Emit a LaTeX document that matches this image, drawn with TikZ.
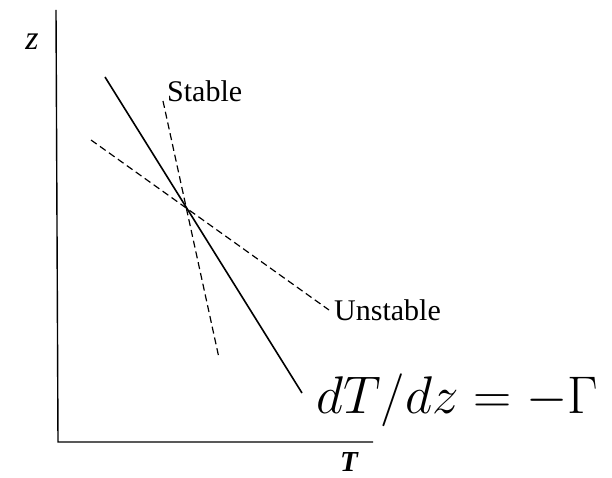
\RequirePackage{fix-cm}
\documentclass[tikz,border=0pt]{standalone}
\usepackage{fontspec}
\setmainfont{Liberation Serif}
\begin{document}
\begin{tikzpicture}[x=1pt,y=-1pt,
    axis/.style={line width=1.4pt},
    lapse/.style={line width=1.6pt},
    trial/.style={line width=1.2pt, dash pattern=on 7pt off 4pt},
    lbl/.style={inner sep=0pt, font=\fontsize{30}{36}\selectfont}]
  \useasboundingbox (0,0) rectangle (612,478);
  % axes
  \coordinate (ztop) at (56,10);
  \coordinate (orig) at (58,442);
  \coordinate (tend) at (373,442);
  \draw[axis] (ztop) -- (orig) -- (tend);
  \node[lbl, font=\fontsize{34}{40}\selectfont\itshape] (zlab) at (32,42) {z};
  \node[lbl, font=\fontsize{29}{34}\selectfont\bfseries\itshape] (tlab) at (349,462) {T};
  % lapse rate and the two profiles
  \coordinate (lapsetop) at (105,77);
  \coordinate (lapsebot) at (302,393);
  \draw[lapse] (lapsetop) -- (lapsebot);
  \coordinate (stabtop) at (163,101);
  \coordinate (stabbot) at (219,358);
  \draw[trial] (stabtop) -- (stabbot);
  \coordinate (unsttop) at (91,140);
  \coordinate (unstbot) at (329,310);
  \draw[trial] (unsttop) -- (unstbot);
  \node[lbl, anchor=base west] (stable) at (167,102) {Stable};
  \node[lbl, anchor=base west] (unstable) at (334,320) {Unstable};
  \node[inner sep=0pt, anchor=base west, font=\fontsize{53}{62}\selectfont] (rate) at (316,413) {$dT/dz=-\Gamma$};
\end{tikzpicture}
\end{document}
